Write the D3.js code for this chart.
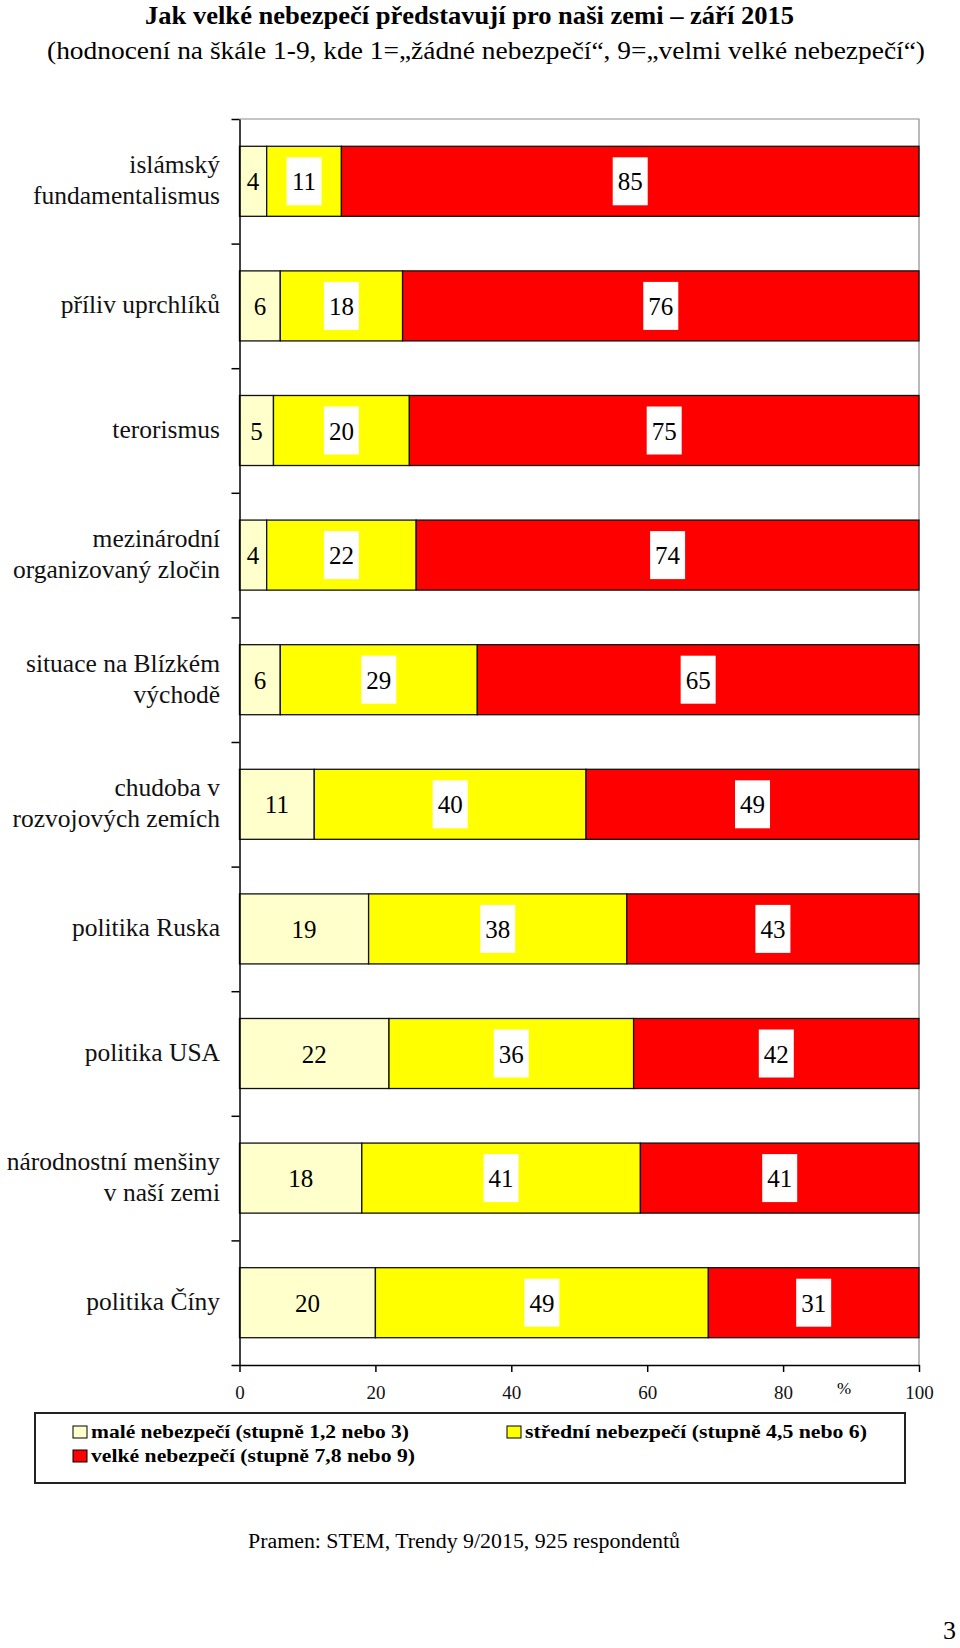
<!DOCTYPE html>
<html>
<head>
<meta charset="utf-8">
<script src="https://cdn.jsdelivr.net/npm/d3@7"></script>
<style>
  body { margin: 0; background: #fff; }
  svg { display: block; font-family: "Liberation Serif", "Times New Roman", serif; }
  svg text { font-family: "Liberation Serif", "Times New Roman", serif; }
</style>
</head>
<body>
<svg id="chart" width="960" height="1648"></svg>
<script>
// data
const categories = [
  ["islámský", "fundamentalismus"],
  ["příliv uprchlíků"],
  ["terorismus"],
  ["mezinárodní", "organizovaný zločin"],
  ["situace na Blízkém", "východě"],
  ["chudoba v", "rozvojových zemích"],
  ["politika Ruska"],
  ["politika USA"],
  ["národnostní menšiny", "v naší zemi"],
  ["politika Číny"]
];
const small  = [4, 6, 5, 4, 6, 11, 19, 22, 18, 20];
const medium = [11, 18, 20, 22, 29, 40, 38, 36, 41, 49];
const large  = [85, 76, 75, 74, 65, 49, 43, 42, 41, 31];
const xTicks = [0, 20, 40, 60, 80, 100];
const seriesNames = [
  "malé nebezpečí (stupně 1,2 nebo 3)",
  "střední nebezpečí (stupně 4,5 nebo 6)",
  "velké nebezpečí (stupně 7,8 nebo 9)"
];
const colors = ["#ffffcc", "#ffff00", "#ff0000"];

// layout
const plot = {left: 239.5, right: 919, top: 119, bottom: 1365};

const svg = d3.select("#chart");

const x = d3.scaleLinear()
  .domain([0, 100])
  .range([plot.left, plot.right]);

const idx = d3.range(categories.length);
const y = d3.scaleBand()
  .domain(idx)
  .range([plot.top, plot.bottom])
  .paddingInner(0.438)
  .paddingOuter(0.219);

// band boundaries for the y ticks
const yb = d3.scaleLinear().domain([0, categories.length]).range([plot.top, plot.bottom]);

// title
svg.append("text")
  .attr("x", 469.5).attr("y", 24)
  .attr("text-anchor", "middle")
  .attr("font-size", 25).attr("font-weight", "bold")
  .attr("textLength", 649).attr("lengthAdjust", "spacingAndGlyphs")
  .text("Jak velké nebezpečí představují pro naši zemi – září 2015");

svg.append("text")
  .attr("x", 486).attr("y", 59)
  .attr("text-anchor", "middle")
  .attr("font-size", 25)
  .attr("textLength", 878).attr("lengthAdjust", "spacingAndGlyphs")
  .text("(hodnocení na škále 1-9, kde 1=„žádné nebezpečí“, 9=„velmi velké nebezpečí“)");

// gray frame (top, right)
svg.append("path")
  .attr("d", `M${plot.left},${plot.top}H${plot.right}V${plot.bottom}`)
  .attr("fill", "none").attr("stroke", "#8c8c8c").attr("stroke-width", 1.2);

// stacked rows
const rows = idx.map(i => {
  const vals = [small[i], medium[i], large[i]];
  let acc = 0;
  return vals.map((v, k) => {
    const s = {i, k, v, x0: acc, x1: acc + v};
    acc += v;
    return s;
  });
});

const segs = svg.append("g").selectAll("g")
  .data(rows)
  .join("g");

segs.selectAll("rect")
  .data(d => d)
  .join("rect")
  .attr("x", d => x(d.x0))
  .attr("y", d => y(d.i))
  .attr("width", d => x(d.x1) - x(d.x0))
  .attr("height", y.bandwidth())
  .attr("fill", d => colors[d.k])
  .attr("stroke", "#111")
  .attr("stroke-width", 1.3);

// value labels, white boxes on the yellow and red parts
const lab = svg.append("g").selectAll("g")
  .data(rows.flat())
  .join("g")
  .attr("transform", d => `translate(${x((d.x0 + d.x1) / 2)},${y(d.i) + y.bandwidth() / 2})`);

lab.filter(d => d.k > 0).append("rect")
  .attr("x", d => -(String(d.v).length * 12 + 11) / 2)
  .attr("y", -24)
  .attr("width", d => String(d.v).length * 12 + 11)
  .attr("height", 48)
  .attr("fill", "#fff");

lab.append("text")
  .attr("text-anchor", "middle")
  .attr("y", 9)
  .attr("font-size", 25)
  .text(d => d.v);

// y axis with ticks between the categories
svg.append("g")
  .attr("transform", `translate(${plot.left},0)`)
  .call(d3.axisLeft(yb).tickValues(d3.range(categories.length + 1)).tickFormat("").tickSize(8).tickSizeOuter(0))
  .call(g => g.selectAll("line, path").attr("stroke", "#000").attr("stroke-width", 1.5));

// category labels
const cat = svg.append("g").selectAll("text")
  .data(idx)
  .join("text")
  .attr("text-anchor", "end")
  .attr("font-size", 25.5)
  .attr("fill", "#111");

cat.each(function (i) {
  const lines = categories[i];
  const c = y(i) + y.bandwidth() / 2;
  d3.select(this).selectAll("tspan")
    .data(lines)
    .join("tspan")
    .attr("x", 220)
    .attr("y", (l, j) => c + 7.5 + (j - (lines.length - 1) / 2) * 31)
    .text(l => l);
});

// x axis
svg.append("g")
  .attr("transform", `translate(0,${plot.bottom})`)
  .call(d3.axisBottom(x).tickValues(xTicks).tickSize(7).tickSizeOuter(0))
  .attr("font-size", 19)
  .call(g => g.selectAll("line, path").attr("stroke", "#000").attr("stroke-width", 1.5))
  .call(g => g.selectAll("text")
    .attr("fill", "#111")
    .attr("y", 34).attr("dy", 0));

svg.append("text")
  .attr("x", 844).attr("y", 1394)
  .attr("text-anchor", "middle")
  .attr("font-size", 17)
  .text("%");

// legend
const legend = svg.append("g");
legend.append("rect")
  .attr("x", 35).attr("y", 1413)
  .attr("width", 870).attr("height", 70)
  .attr("fill", "#fff").attr("stroke", "#222").attr("stroke-width", 2);

const legendPos = [
  {x: 73, y: 1438, w: 318},
  {x: 507, y: 1438, w: 342},
  {x: 73, y: 1462, w: 324}
];
const li = legend.selectAll("g.item")
  .data(seriesNames)
  .join("g")
  .attr("class", "item")
  .attr("transform", (d, i) => `translate(${legendPos[i].x},${legendPos[i].y})`);

li.append("rect")
  .attr("x", 0).attr("y", -12)
  .attr("width", 14).attr("height", 12)
  .attr("fill", (d, i) => colors[i])
  .attr("stroke", "#000").attr("stroke-width", 1);

li.append("text")
  .attr("x", 18)
  .attr("font-size", 19).attr("font-weight", "bold")
  .attr("textLength", (d, i) => legendPos[i].w)
  .attr("lengthAdjust", "spacingAndGlyphs")
  .text(d => d);

// source and page number
svg.append("text")
  .attr("x", 248).attr("y", 1548)
  .attr("font-size", 20)
  .attr("textLength", 432).attr("lengthAdjust", "spacingAndGlyphs")
  .text("Pramen: STEM, Trendy 9/2015, 925 respondentů");

svg.append("text")
  .attr("x", 956).attr("y", 1639)
  .attr("text-anchor", "end")
  .attr("font-size", 26)
  .text("3");
</script>
</body>
</html>
